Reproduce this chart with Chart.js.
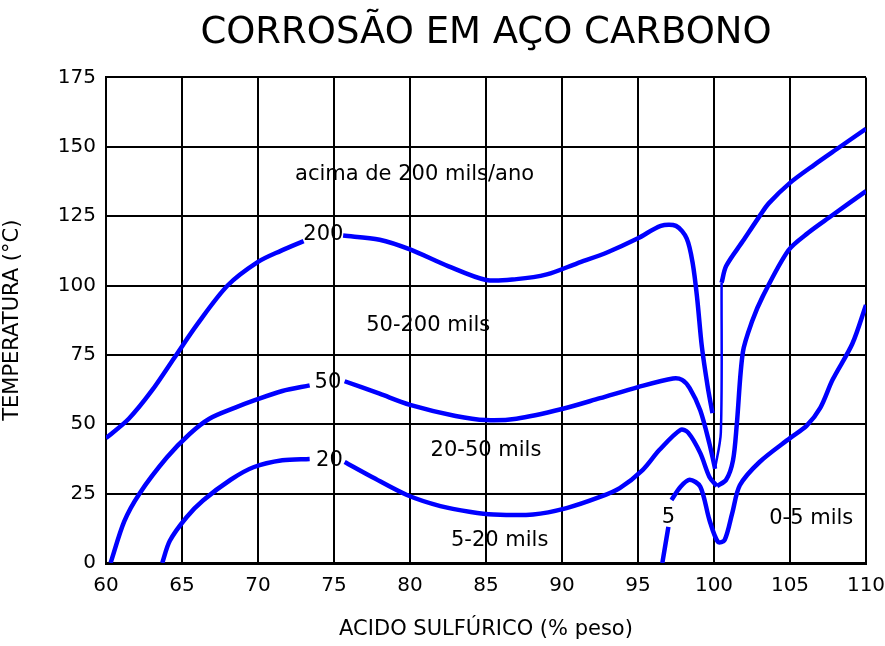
<!DOCTYPE html>
<html>
<head>
<meta charset="utf-8">
<script src="https://cdn.jsdelivr.net/npm/chart.js@4"></script>
<style>
  html, body { margin: 0; padding: 0; background: #fff; }
  #wrap { width: 885px; height: 646px; }
</style>
</head>
<body>
<div id="wrap"><canvas id="chart" width="885" height="646"></canvas></div>
<script>
// ---- Data ----
const xTicks = [60, 65, 70, 75, 80, 85, 90, 95, 100, 105, 110];
const yTicks = [0, 25, 50, 75, 100, 125, 150, 175];

// 200 mils/ano boundary
const curve200Left = [[60, 45], [61.5, 52], [63, 62], [64.5, 74], [66, 86], [68, 100], [70, 108.5], [71.5, 112.5], [73, 116]];
const curve200Mid = [[75.6, 118], [78, 116.5], [80, 113], [82.5, 107], [85, 102], [87, 102.3], [89, 104], [91, 108], [93, 112], [95, 117], [96.5, 121.5], [97.5, 121.5], [98.2, 117], [98.6, 108], [98.9, 95], [99.2, 78], [99.6, 63], [99.9, 54]];
const curve200Right = [[100.5, 101], [100.8, 107], [101.9, 116], [103, 125], [103.6, 129.6], [105, 137], [106.6, 143.5], [108.3, 150], [110, 156.5]];
const curve200Link = [[100.07, 34], [100.45, 47], [100.5, 101]];

// 50 mils/ano boundary
const curve50Left = [[60.3, 0], [61.2, 15], [62.2, 25], [64, 38], [65.5, 46.5], [66.8, 52], [68.5, 56], [69.7, 58.5], [71.6, 62], [73.4, 64]];
const curve50Mid = [[75.7, 65.5], [78, 61], [80, 57], [83, 53], [85, 51.5], [87, 52], [90, 55.5], [92.5, 59.4], [95, 63.4], [97.3, 66.5], [97.9, 66], [98.4, 63], [99.1, 55], [99.7, 43], [100.07, 34]];
const curve50Right = [[100.2, 27.7], [100.8, 30], [101.25, 37], [101.5, 50], [101.9, 76], [102.5, 87], [103.2, 96], [104.9, 112.7], [106.2, 119], [107.6, 124.6], [110, 134]];

// 20 mils/ano boundary
const curve20Left = [[63.7, 0], [64.2, 8], [65.3, 16.5], [66.4, 22.6], [68.2, 30], [69.7, 34.5], [71.6, 37], [73.4, 37.5]];
const curve20Mid = [[75.7, 36.4], [77.5, 31], [79.8, 24.5], [82, 20.5], [84, 18.4], [85.5, 17.5], [88.1, 17.5], [90.3, 19.8], [92.5, 23.8], [93.8, 27], [95.3, 33.5], [96.4, 40.7], [97.8, 48], [98.3, 47], [99.1, 39.6], [99.7, 31], [100.2, 27.7]];

// 5 mils/ano boundary
const curve5Low = [[96.6, 0], [97, 13]];
const curve5Mid = [[97.2, 22.7], [97.8, 27.5], [98.4, 30], [99.1, 27.5], [99.7, 15.5], [100.26, 7.6], [100.7, 8.3], [101.2, 18], [101.7, 28], [103, 36.4], [105, 45], [106.1, 49.5], [107, 56], [107.8, 66], [109.1, 79], [110, 93]];

// Region labels
const labelTexts = ['acima de 200 mils/ano', '200', '50-200 mils', '50', '20-50 mils', '20', '5-20 mils', '5', '0-5 mils'];
const labelX = [80.3, 74.3, 81.2, 74.6, 85, 74.7, 85.9, 97, 106.4];
const labelY = [140, 118.5, 85.5, 65, 40.5, 37, 8, 16.5, 16];

// ---- Build datasets ----
const blue = '#0000ff';
function line(points, width) {
  return {
    data: points.map(p => ({ x: p[0], y: p[1] })),
    showLine: true,
    borderColor: blue,
    backgroundColor: blue,
    borderWidth: width || 4.5,
    pointRadius: 0,
    tension: 0.3,
    fill: false,
  };
}

const datasets = [
  line(curve200Left), line(curve200Mid), line(curve200Right), line(curve200Link, 2.5),
  line(curve50Left), line(curve50Mid), line(curve50Right),
  line(curve20Left), line(curve20Mid),
  line(curve5Low), line(curve5Mid),
];

// draw the region labels in data coordinates
const regionLabels = {
  id: 'regionLabels',
  afterDatasetsDraw(chart) {
    const ctx = chart.ctx;
    const xs = chart.scales.x, ys = chart.scales.y;
    ctx.save();
    ctx.font = '21px "DejaVu Sans"';
    ctx.fillStyle = '#000';
    ctx.textAlign = 'center';
    ctx.textBaseline = 'middle';
    labelTexts.forEach((t, i) => {
      ctx.fillText(t, xs.getPixelForValue(labelX[i]), ys.getPixelForValue(labelY[i]));
    });
    ctx.restore();
  }
};

new Chart(document.getElementById('chart'), {
  type: 'scatter',
  data: { datasets },
  plugins: [regionLabels],
  options: {
    responsive: false,
    animation: false,
    layout: { padding: { left: 0, right: 0, top: 0, bottom: 0 } },
    plugins: {
      legend: { display: false },
      tooltip: { enabled: false },
      title: {
        display: true,
        text: 'CORROSÃO EM AÇO CARBONO',
        color: '#000',
        fullSize: false,
        font: { family: 'DejaVu Sans', size: 37, weight: 'normal' },
        padding: { top: 11, bottom: 22 },
      },
    },
    scales: {
      x: {
        type: 'linear',
        min: 60,
        max: 110,
        afterBuildTicks: s => { s.ticks = xTicks.map(v => ({ value: v })); },
        afterFit: s => { s.height = 83; s.paddingRight = 19; s.paddingLeft = 0; },
        ticks: { color: '#000', font: { family: 'DejaVu Sans', size: 20 }, padding: 11, maxRotation: 0 },
        grid: { color: '#000', lineWidth: 2, drawTicks: false },
        border: { color: '#000', width: 3 },
        title: {
          display: true,
          text: 'ACIDO SULFÚRICO (% peso)',
          color: '#000',
          font: { family: 'DejaVu Sans', size: 21 },
          padding: { top: 18 },
        },
      },
      y: {
        type: 'linear',
        min: 0,
        max: 175,
        afterBuildTicks: s => { s.ticks = yTicks.map(v => ({ value: v })); },
        afterFit: s => { s.width = 106; },
        ticks: { color: '#000', font: { family: 'DejaVu Sans', size: 20 }, padding: 10 },
        grid: { color: '#000', lineWidth: 2, drawTicks: false },
        border: { color: '#000', width: 2 },
        title: {
          display: true,
          text: 'TEMPERATURA (°C)',
          color: '#000',
          font: { family: 'DejaVu Sans', size: 21 },
          padding: { top: 0, bottom: 0 },
        },
      },
    },
  },
});
</script>
</body>
</html>
